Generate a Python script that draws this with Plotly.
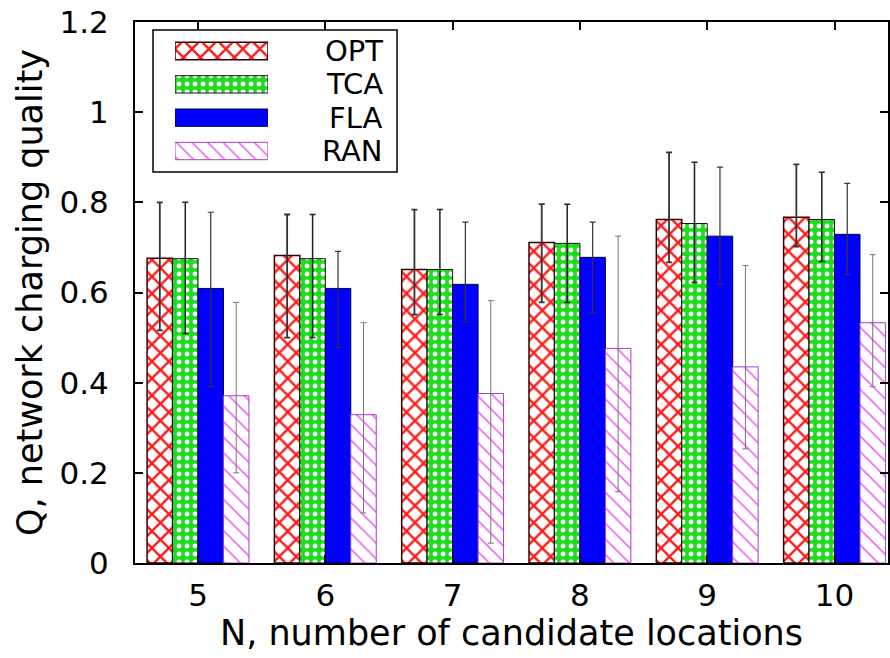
import plotly.graph_objects as go

# ---- data ----
N_values = [5, 6, 7, 8, 9, 10]
series_names = ["OPT", "TCA", "FLA", "RAN"]

opt_mean = [0.676, 0.682, 0.651, 0.711, 0.762, 0.767]
opt_hi = [0.800, 0.773, 0.784, 0.796, 0.911, 0.884]
opt_lo = [0.516, 0.500, 0.551, 0.578, 0.667, 0.702]

tca_mean = [0.675, 0.675, 0.651, 0.709, 0.753, 0.762]
tca_hi = [0.800, 0.773, 0.784, 0.796, 0.889, 0.867]
tca_lo = [0.509, 0.500, 0.551, 0.578, 0.622, 0.669]

fla_mean = [0.609, 0.609, 0.618, 0.678, 0.725, 0.729]
fla_hi = [0.778, 0.691, 0.756, 0.756, 0.878, 0.842]
fla_lo = [0.391, 0.478, 0.535, 0.555, 0.618, 0.640]

ran_mean = [0.371, 0.329, 0.376, 0.476, 0.435, 0.533]
ran_hi = [0.578, 0.533, 0.582, 0.725, 0.660, 0.684]
ran_lo = [0.200, 0.111, 0.044, 0.158, 0.253, 0.391]

y_ticks = [0, 0.2, 0.4, 0.6, 0.8, 1.0, 1.2]
y_ticktext = ["0", "0.2", "0.4", "0.6", "0.8", "1", "1.2"]

FONT = "DejaVu Sans"

styles = {
    "OPT": dict(pattern=dict(shape="x", fgcolor="#ff1a1a", bgcolor="white", size=12,
                             solidity=0.35, fillmode="replace"),
                line=dict(color="#3a0000", width=1.5), err="#333333", errw=1.8),
    "TCA": dict(pattern=dict(shape=".", fgcolor="white", bgcolor="#1fdc1f", size=8,
                             solidity=0.3, fillmode="replace"),
                line=dict(color="#111111", width=1), err="#222222", errw=1.5),
    "FLA": dict(pattern=None, color="#0000ff",
                line=dict(color="#000044", width=1), err="#333333", errw=1.2),
    "RAN": dict(pattern=dict(shape="\\", fgcolor="#ee55ee", bgcolor="white", size=11,
                             solidity=0.14, fillmode="replace"),
                line=dict(color="#a040c0", width=1), err="#777777", errw=1.0),
}

data = {
    "OPT": (opt_mean, opt_hi, opt_lo),
    "TCA": (tca_mean, tca_hi, tca_lo),
    "FLA": (fla_mean, fla_hi, fla_lo),
    "RAN": (ran_mean, ran_hi, ran_lo),
}


def make_marker(st):
    marker = dict(line=st["line"])
    if st["pattern"] is not None:
        marker["pattern"] = st["pattern"]
        marker["color"] = st["pattern"]["bgcolor"]
    else:
        marker["color"] = st["color"]
    return marker


fig = go.Figure()

for name in series_names:
    mean, hi, lo = data[name]
    st = styles[name]
    fig.add_trace(go.Bar(
        x=N_values, y=mean, name=name, marker=make_marker(st), showlegend=False,
        error_y=dict(type="data", symmetric=False,
                     array=[h - m for h, m in zip(hi, mean)],
                     arrayminus=[m - l for m, l in zip(mean, lo)],
                     color=st["err"], thickness=st["errw"], width=3),
        xaxis="x", yaxis="y",
    ))

# ---- legend key drawn as a small inset bar panel ----
for name in series_names:
    st = styles[name]
    fig.add_trace(go.Bar(
        y=[name], x=[1], orientation="h", marker=make_marker(st), showlegend=False,
        offsetgroup="legend", width=0.52, xaxis="x2", yaxis="y2",
        hoverinfo="skip",
    ))
    fig.add_annotation(text=name, xref="paper", yref="y2", x=0.332, y=name,
                       xanchor="right", yanchor="middle", showarrow=False,
                       font=dict(family=FONT, size=29, color="black"))

fig.add_shape(type="rect", xref="paper", yref="paper", x0=0.0239, x1=0.348,
              y0=0.7227, y1=0.985, line=dict(color="black", width=1.5),
              fillcolor="rgba(0,0,0,0)", layer="below")

fig.update_layout(
    width=890, height=658,
    margin=dict(l=135, r=2, t=22, b=95),
    paper_bgcolor="white", plot_bgcolor="white",
    barmode="group", bargap=0.2, bargroupgap=0,
    font=dict(family=FONT, color="black"),
    xaxis=dict(
        range=[4.505, 10.42], tickvals=N_values, ticktext=[str(v) for v in N_values],
        ticks="inside", ticklen=8, tickwidth=1.5, tickcolor="black",
        showline=True, linecolor="black", linewidth=2, mirror="ticks",
        showgrid=False, zeroline=False, automargin=False,
        tickfont=dict(family=FONT, size=31), ticklabelstandoff=4,
        title=dict(text="N, number of candidate locations",
                   font=dict(family=FONT, size=35), standoff=2),
    ),
    yaxis=dict(
        range=[0, 1.2], tickvals=y_ticks, ticktext=y_ticktext,
        ticks="inside", ticklen=8, tickwidth=1.5, tickcolor="black",
        showline=True, linecolor="black", linewidth=2, mirror="ticks",
        showgrid=False, zeroline=False, automargin=False,
        tickfont=dict(family=FONT, size=31), ticklabelstandoff=18,
        title=dict(text="Q, network charging quality",
                   font=dict(family=FONT, size=35), standoff=6),
    ),
    xaxis2=dict(domain=[0.0531, 0.1766], range=[0, 1], visible=False, anchor="y2",
                fixedrange=True),
    yaxis2=dict(domain=[0.7264, 0.9815], visible=False, anchor="x2",
                type="category", categoryarray=series_names, autorange="reversed",
                fixedrange=True),
)

fig.write_html("out.html", config={"displayModeBar": False},
               post_script="document.body.style.margin='0px';document.body.style.overflow='hidden';")
